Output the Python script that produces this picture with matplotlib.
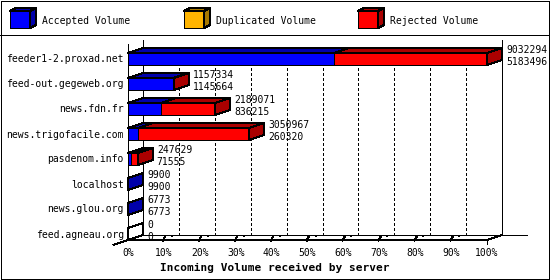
import numpy as np
import matplotlib
matplotlib.use('Agg')
import matplotlib.pyplot as plt
from matplotlib.patches import Polygon
from matplotlib.transforms import IdentityTransform

servers = ['feeder1-2.proxad.net', 'feed-out.gegeweb.org', 'news.fdn.fr',
           'news.trigofacile.com', 'pasdenom.info', 'localhost',
           'news.glou.org', 'feed.agneau.org']
total = [9032294, 1157334, 2189071, 3050967, 247629, 9900, 6773, 0]
accepted = [5183496, 1145664, 836215, 260320, 71555, 9900, 6773, 0]
duplicated = [0, 0, 0, 0, 0, 0, 0, 0]
rejected = [3848798, 11670, 1352856, 2790647, 176074, 0, 0, 0]
series_names = ['Accepted Volume', 'Duplicated Volume', 'Rejected Volume']
ticks = [0, 10, 20, 30, 40, 50, 60, 70, 80, 90, 100]
tick_labels = ['0%', '10%', '20%', '30%', '40%', '50%', '60%', '70%', '80%', '90%', '100%']
xlabel = 'Incoming Volume received by server'

front_colours = ['#0000ff', '#ffb400', '#ff0000']
dark_colours = ['#0000aa', '#a87800', '#aa0000']
DX, DY = 15, 5       # depth of the 3d effect in pixels
FONT = 'DejaVu Sans Mono'
LW = 0.72            # 1 pixel at 100 dpi
W, H = 550, 280

fig = plt.figure(figsize=(5.5, 2.8), dpi=100)
ax = fig.add_axes([128 / W, 40 / H, 359 / W, 205 / H])
ax.set_xlim(0, 100)
ax.set_ylim(7.24, -0.96)
ax.axis('off')
ident = IdentityTransform()
off = np.array([DX, DY])
floor = 7.24


def disp(x, y):
    return np.array(ax.transData.transform((x, y)))


def poly(pts, fc, z=3):
    ax.add_patch(Polygon(np.array(pts), closed=True, facecolor=fc, edgecolor='black',
                         linewidth=LW, transform=ident, clip_on=False, zorder=z,
                         antialiased=False))


def line(pts, z=2, **kw):
    pts = np.array(pts, dtype=float)
    ax.plot(pts[:, 0], pts[:, 1], color='black', linewidth=LW, transform=ident,
            clip_on=False, zorder=z, antialiased=False, solid_capstyle='butt', **kw)


def text(x, y, s, **kw):
    ax.text(x, y, s, transform=ident, family=FONT, fontsize=7, clip_on=False,
            zorder=5, **kw)


# walls, floor and grid
f0 = disp(0, floor)
f100 = disp(100, floor)
top = H - 40
line([f0 + off, [f0[0] + DX, top]])
line([f100 + off, [f100[0] + DX, top]])
line([f0, [f0[0], H - 44]])
line([f0 + off, [f100[0] + DX + 25, f0[1] + DY]])
line([f0, f100, f100 + off])
line([f0 - off, f0 + off])
for p in ticks[1:-1]:
    b = disp(p, floor) + off
    ax.plot([b[0], b[0]], [b[1], H - 48], color='black', linewidth=LW,
            linestyle=(0, (2.88, 2.16)), transform=ident, clip_on=False, zorder=1,
            antialiased=False)
    x = disp(p, floor)[0]
    line([[x - 1, f0[1] - 1], [x + 1, f0[1] + 3], [x + 2, f0[1] + 3]])
    ax.add_patch(plt.Rectangle((x + 7, f0[1] + 3), 2, 2, facecolor='black',
                               edgecolor='none', transform=ident, clip_on=False,
                               zorder=2, antialiased=False))
line([f100, f100 - [0, 4]])

for p, lab in zip(ticks, tick_labels):
    text(disp(p, floor)[0], 23.5, lab, ha='center', va='baseline')
ax.text(W / 2, 9, xlabel, transform=ident, family=FONT, fontsize=8,
        fontweight='bold', ha='center', va='baseline', clip_on=False)

# bars
vmax = max(total)
for i, name in enumerate(servers):
    y_top, y_bot = i - 0.24, i + 0.24
    start = 0
    last = 0
    for k, v in enumerate([accepted[i], duplicated[i], rejected[i]]):
        if v == 0:
            continue
        x0 = start / vmax * 100
        x1 = (start + v) / vmax * 100
        a, b = disp(x0, y_top), disp(x1, y_top)
        c, d = disp(x1, y_bot), disp(x0, y_bot)
        poly([a, b, c, d], front_colours[k])
        poly([a, b, b + off, a + off], dark_colours[k])
        start += v
        last = k
    xe = start / vmax * 100
    b, c = disp(xe, y_top), disp(xe, y_bot)
    poly([b, c, c + off, b + off], dark_colours[last] if start > 0 else 'white')

    mid = disp(xe, i)
    text(mid[0] + DX + 4, mid[1] + 6, str(total[i]), ha='left', va='baseline')
    text(mid[0] + DX + 4, mid[1] - 6, str(accepted[i]), ha='left', va='baseline')
    lab = disp(0, i)
    text(lab[0] - 4, lab[1] - 3.5, name, ha='right', va='baseline')

# legend
for k, name in enumerate(series_names):
    x = 10 + 174 * k
    a, b = np.array([x, 269]), np.array([x + 20, 269])
    c, d = np.array([x + 20, 252]), np.array([x, 252])
    o = np.array([6, 3])
    poly([a, b, c, d], front_colours[k])
    poly([a, b, b + o, a + o], dark_colours[k])
    poly([b, c, c + o, b + o], dark_colours[k])
    text(x + 32, 256.5, name, ha='left', va='baseline')

line([[0, 245], [W, 245]])
line([[0.5, 1], [548.5, 1], [548.5, H - 0.5], [0.5, H - 0.5], [0.5, 1]])

fig.savefig('out.png', dpi=100)
